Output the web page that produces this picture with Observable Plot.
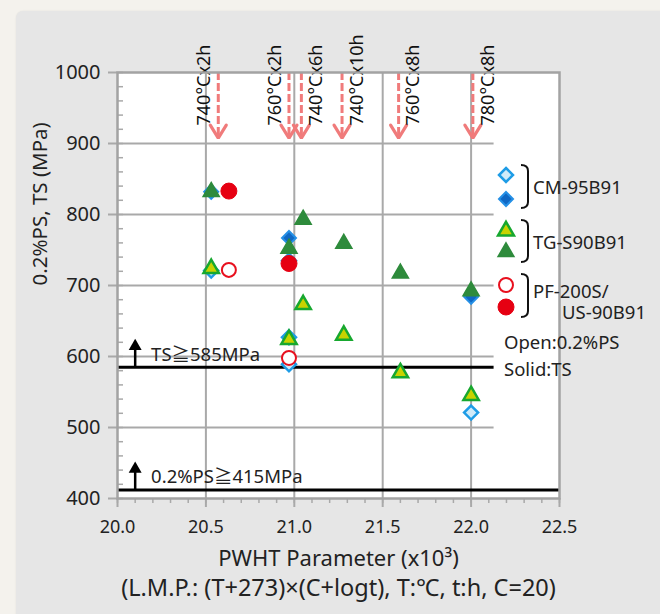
<!DOCTYPE html>
<html>
<head>
<meta charset="utf-8">
<script src="https://cdn.jsdelivr.net/npm/d3@7"></script>
<script src="https://cdn.jsdelivr.net/npm/@observablehq/plot@0.6"></script>
<style>
  html, body { margin: 0; padding: 0; background: #f4f2ed; width: 660px; height: 614px; overflow: hidden; }
  #panel { position: absolute; left: 16px; top: 11px; width: 700px; height: 700px; background: #e6e6e6; border-radius: 7px; box-shadow: 0 0 2px rgba(0,0,0,0.08); }
  #chart { position: absolute; left: 0; top: 0; }
  #legend { position: absolute; left: 0; top: 0; width: 660px; height: 614px; pointer-events: none; }
  text { font-family: "Noto Sans", "Noto Sans CJK JP", sans-serif; }
</style>
</head>
<body>
<div id="panel"></div>
<div id="chart"></div>
<svg id="legend" width="660" height="614"></svg>
<script>
// ---- data ----
const cmPS = [{x:20.53,y:721},{x:20.97,y:735},{x:20.97,y:627},{x:20.97,y:589},{x:22.0,y:521}];
const cmTS = [{x:20.53,y:832},{x:20.97,y:767},{x:22.0,y:684}];
const tgPS = [{x:20.53,y:724},{x:20.97,y:624},{x:21.05,y:673},{x:21.28,y:630},{x:21.6,y:577},{x:22.0,y:545}];
const tgTS = [{x:20.53,y:832},{x:20.97,y:752},{x:21.05,y:793},{x:21.28,y:759},{x:21.6,y:717},{x:22.0,y:692}];
const pfPS = [{x:20.63,y:722},{x:20.97,y:598}];
const pfTS = [{x:20.63,y:833},{x:20.97,y:731}];

const pwhtLabels = ["740°Cx2h","760°Cx2h","740°Cx6h","740°Cx10h","760°Cx8h","780°Cx8h"];
const pwhtX = [20.57, 20.97, 21.04, 21.27, 21.59, 22.01];
const pwhtSide = ["left","left","right","right","right","right"];

const xMajor = [20.0, 20.5, 21.0, 21.5, 22.0, 22.5];
const xMinor = d3.range(0, 26).map(i => 20 + i * 0.1);
const yMajor = [400, 500, 600, 700, 800, 900, 1000];
const yMinor = d3.range(0, 31).map(i => 400 + i * 20);
const xGrid = [20.5, 21.0, 21.5, 22.0];
const yGrid = [500, 600, 700, 800, 900];

const specTS = 585, specPS = 412;
const specLabels = ["TS≧585MPa", "0.2%PS≧415MPa"];

const xTitle = "PWHT Parameter (x10³)";
const xSub = "(L.M.P.: (T+273)×(C+logt), T:℃, t:h, C=20)";
const yTitle = "0.2%PS, TS (MPa)";

// ---- styles ----
const FONT = '"Noto Sans", "Noto Sans CJK JP", sans-serif';
const GRID = "#a9a9a9";
const PINK = "#f07b7b";
const st = {
  cmO: {fill:"#d0ebf9", stroke:"#1e9ce6", strokeWidth:2.5},
  cmS: {fill:"#1068c4", stroke:"#2590e6", strokeWidth:2},
  tgO: {fill:"#c8d300", stroke:"#17a82f", strokeWidth:2.5},
  tgS: {fill:"#2e8b3c", stroke:"#2e8b3c", strokeWidth:1.5},
  pfO: {fill:"#ffffff", stroke:"#e8101e", strokeWidth:2},
  pfS: {fill:"#e60012", stroke:"#e60012", strokeWidth:1}
};
const pw = pwhtLabels.map((label, i) => ({label, x: pwhtX[i], side: pwhtSide[i]}));

// chevron heads for the PWHT arrows (size derived from pixel scale: 8px half-width, 13px height)
const tipY = 907.5;
const kx = 2.5 / 442, ky = 600 / 427;
const heads = pw.flatMap(d => [
  {k: d.label, x: d.x - 8 * kx, y: tipY + 13 * ky},
  {k: d.label, x: d.x, y: tipY},
  {k: d.label, x: d.x + 8 * kx, y: tipY + 13 * ky}
]);

const plot = Plot.plot({
  width: 660, height: 614,
  marginLeft: 117, marginRight: 101, marginTop: 72, marginBottom: 116,
  x: {domain: [20, 22.5]},
  y: {domain: [400, 1000]},
  style: {background: "transparent", fontFamily: FONT, color: "#222"},
  marks: [
    Plot.frame({fill: "white", stroke: "none"}),
    Plot.ruleY(yGrid, {x1: 20, x2: 22.13, stroke: GRID, strokeWidth: 2}),
    Plot.ruleX(xGrid, {stroke: GRID, strokeWidth: 2}),
    // y axis
    Plot.axisY({ticks: yMajor, tickSize: 9, tickPadding: 8, tickFormat: d3.format("d"), fontSize: 20, stroke: GRID, strokeWidth: 2, label: null, color:"#222"}),
    Plot.axisY({ticks: yMinor, tickSize: 6, dx: 6, tickFormat: () => "", stroke: GRID, strokeWidth: 1.5, label: null}),
    // x axis
    Plot.axisX({ticks: xMajor, tickSize: 9, tickPadding: 13, tickFormat: d3.format(".1f"), fontSize: 18, stroke: GRID, strokeWidth: 2, label: null}),
    Plot.axisX({ticks: xMinor, tickSize: 5, tickFormat: () => "", stroke: GRID, strokeWidth: 1.5, label: null}),
    // spec lines
    Plot.ruleY([specTS], {x1: 20, x2: 22.13, stroke: "black", strokeWidth: 3}),
    Plot.ruleY([specPS], {x1: 20, x2: 22.5, stroke: "black", strokeWidth: 3}),
    Plot.ruleX([20.1], {y1: specTS, y2: 612, stroke: "black", strokeWidth: 2.5}),
    Plot.dot([0], {x: () => 20.1, y: () => 614.5, symbol: "triangle", r: 4.8, fill: "black"}),
    Plot.ruleX([20.1], {y1: specPS, y2: 439, stroke: "black", strokeWidth: 2.5}),
    Plot.dot([0], {x: () => 20.1, y: () => 441.7, symbol: "triangle", r: 4.8, fill: "black"}),
    Plot.text([specLabels[0]], {x: 20.19, y: 602, text: d => d, textAnchor: "start", fontSize: 18.5, fill: "#222"}),
    Plot.text([specLabels[1]], {x: 20.19, y: 430, text: d => d, textAnchor: "start", fontSize: 18.5, fill: "#222"}),
    // PWHT condition arrows
    Plot.ruleX(pw, {x: "x", y1: 1000, y2: tipY + 2, stroke: PINK, strokeWidth: 3, strokeDasharray: "8,3"}),
    Plot.line(heads, {x: "x", y: "y", z: "k", stroke: PINK, strokeWidth: 3.2, strokeLinejoin: "miter", strokeLinecap: "round"}),
    Plot.text(pw.filter(d => d.side === "left"), {x: "x", text: "label", frameAnchor: "top", dy: 53, dx: -14, rotate: -90, textAnchor: "start", lineAnchor: "middle", fontSize: 18, fill: "#111"}),
    Plot.text(pw.filter(d => d.side === "right"), {x: "x", text: "label", frameAnchor: "top", dy: 53, dx: 15, rotate: -90, textAnchor: "start", lineAnchor: "middle", fontSize: 18, fill: "#111"}),
    // data points
    Plot.dot(cmPS, {x: "x", y: "y", symbol: "diamond2", r: 6.3, ...st.cmO}),
    Plot.dot(cmTS, {x: "x", y: "y", symbol: "diamond2", r: 6.3, ...st.cmS}),
    Plot.dot(tgPS, {x: "x", y: "y", symbol: "triangle", r: 5.7, ...st.tgO}),
    Plot.dot(tgTS, {x: "x", y: "y", symbol: "triangle", r: 6, ...st.tgS}),
    Plot.dot(pfPS, {x: "x", y: "y", r: 7, ...st.pfO}),
    Plot.dot(pfTS, {x: "x", y: "y", r: 8, ...st.pfS}),
    // frame border
    Plot.frame({stroke: "#a3a3a3", strokeWidth: 2.5}),
    // titles
    Plot.text([xTitle], {frameAnchor: "bottom", dy: 60, lineAnchor: "middle", text: d => d, fontSize: 22, fill: "#222"}),
    Plot.text([xSub], {frameAnchor: "bottom", dy: 90, lineAnchor: "middle", text: d => d, fontSize: 23.5, fill: "#222"}),
    Plot.text([yTitle], {frameAnchor: "left", dx: -77, rotate: -90, text: d => d, fontSize: 20.5, fill: "#222"})
  ]
});
document.getElementById("chart").appendChild(plot);

// ---- legend (overlay) ----
const lg = d3.select("#legend");
const legendItems = [
  {shape: "diamond", s: st.cmO}, {shape: "diamond", s: st.cmS},
  {shape: "triangle", s: st.tgO}, {shape: "triangle", s: st.tgS},
  {shape: "circleO", s: st.pfO}, {shape: "circleS", s: st.pfS}
];
const legendY = [175, 199, 231, 252, 285, 307];
const LX = 506;
legendItems.forEach((it, i) => {
  const g = lg.append("g").attr("transform", `translate(${LX},${legendY[i]})`);
  let el;
  if (it.shape === "diamond") el = g.append("path").attr("d", d3.symbol(d3.symbolDiamond2, Math.PI * 6.3 * 6.3)());
  else if (it.shape === "triangle") el = g.append("path").attr("d", d3.symbol(d3.symbolTriangle, Math.PI * 5.9 * 5.9)());
  else el = g.append("circle").attr("r", it.shape === "circleO" ? 7 : 8);
  el.attr("fill", it.s.fill).attr("stroke", it.s.stroke).attr("stroke-width", it.s.strokeWidth);
});
const brackets = [[165, 208], [220, 262], [274, 317]];
brackets.forEach(([a, b]) => {
  lg.append("path")
    .attr("d", `M521,${a} Q528,${a} 528,${a + 6} L528,${b - 6} Q528,${b} 521,${b}`)
    .attr("fill", "none").attr("stroke", "#111").attr("stroke-width", 2);
});
const legendText = [
  {t: "CM-95B91", x: 533, y: 188}, {t: "TG-S90B91", x: 533, y: 243},
  {t: "PF-200S/", x: 533, y: 292}, {t: "US-90B91", x: 562, y: 313},
  {t: "Open:0.2%PS", x: 504, y: 343}, {t: "Solid:TS", x: 504, y: 370}
];
legendText.forEach(d => {
  lg.append("text").attr("x", d.x).attr("y", d.y).attr("dy", "0.35em")
    .attr("font-size", 18.5).attr("fill", "#222").style("font-family", FONT).text(d.t);
});
</script>
</body>
</html>
